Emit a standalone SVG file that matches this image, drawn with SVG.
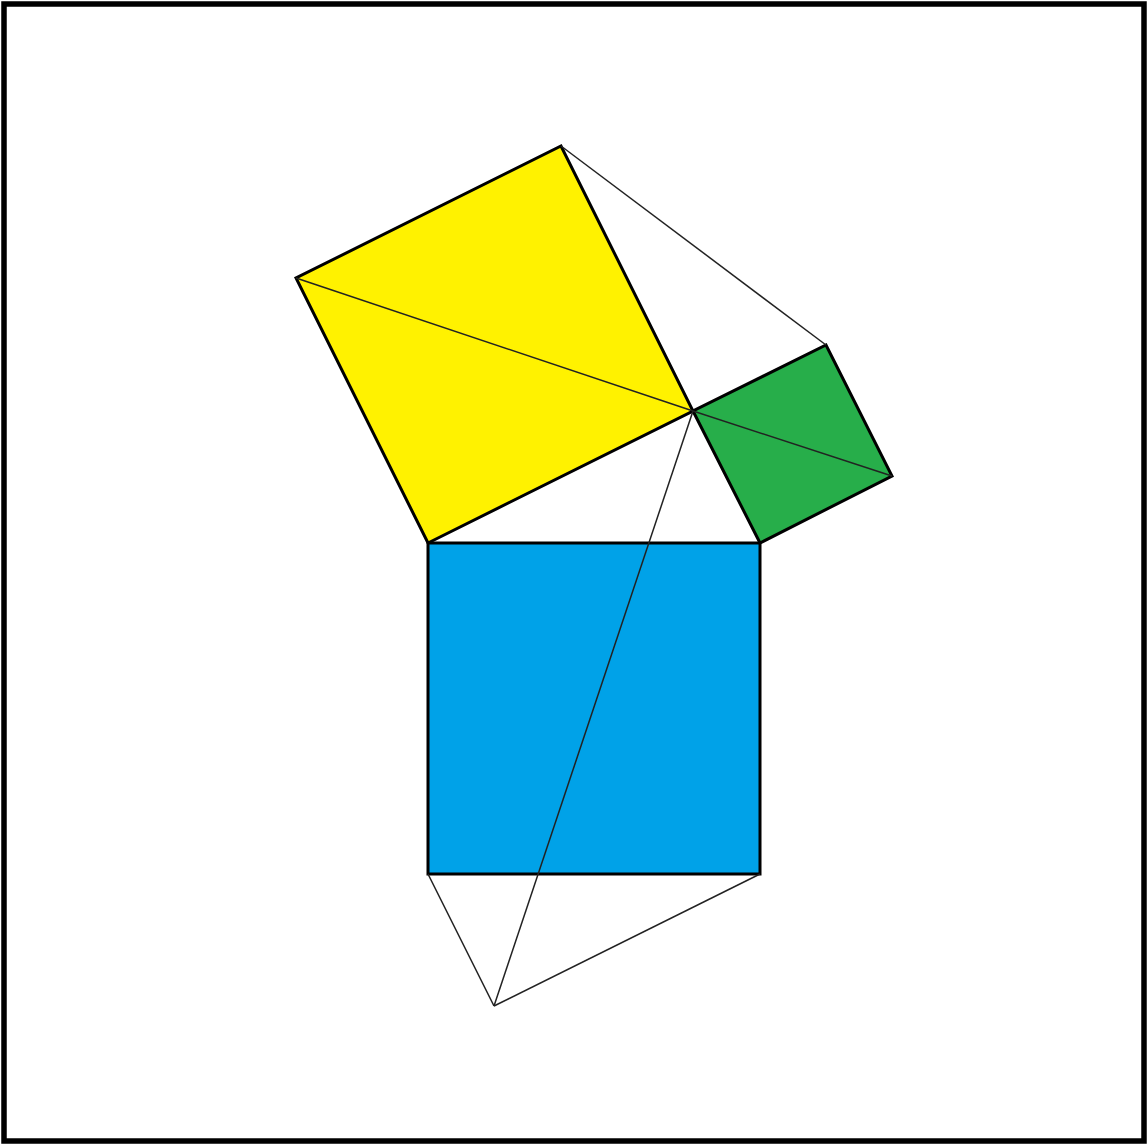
<svg xmlns="http://www.w3.org/2000/svg" width="1147" height="1144" viewBox="0 0 1147 1144">
<style>
.sq{stroke:#000;stroke-width:3;stroke-linejoin:miter}
.thin{stroke:#222;stroke-width:1.5;fill:none}
</style>
<rect x="0" y="0" width="1147" height="1144" fill="#fff"/>
<rect x="4" y="4" width="1140" height="1137" fill="none" stroke="#000" stroke-width="5.5"/>
<g id="blue-square"><polygon class="sq" fill="#00A2E8" points="428,543 760,543 760,874 428,874"/></g>
<g id="yellow-square"><polygon class="sq" fill="#FFF200" points="428,543 693,411 561,146 296,278"/></g>
<g id="green-square"><polygon class="sq" fill="#27AE4A" points="693,411 760,543 892,476 826,345"/></g>
<g id="connectors">
<line class="thin" x1="296" y1="278" x2="693" y2="411"/>
<line class="thin" x1="693" y1="411" x2="892" y2="476"/>
<line class="thin" x1="561" y1="146" x2="826" y2="345"/>
<line class="thin" x1="693" y1="411" x2="494" y2="1006"/>
<line class="thin" x1="428" y1="874" x2="494" y2="1006"/>
<line class="thin" x1="494" y1="1006" x2="760" y2="874"/>
</g>
</svg>
